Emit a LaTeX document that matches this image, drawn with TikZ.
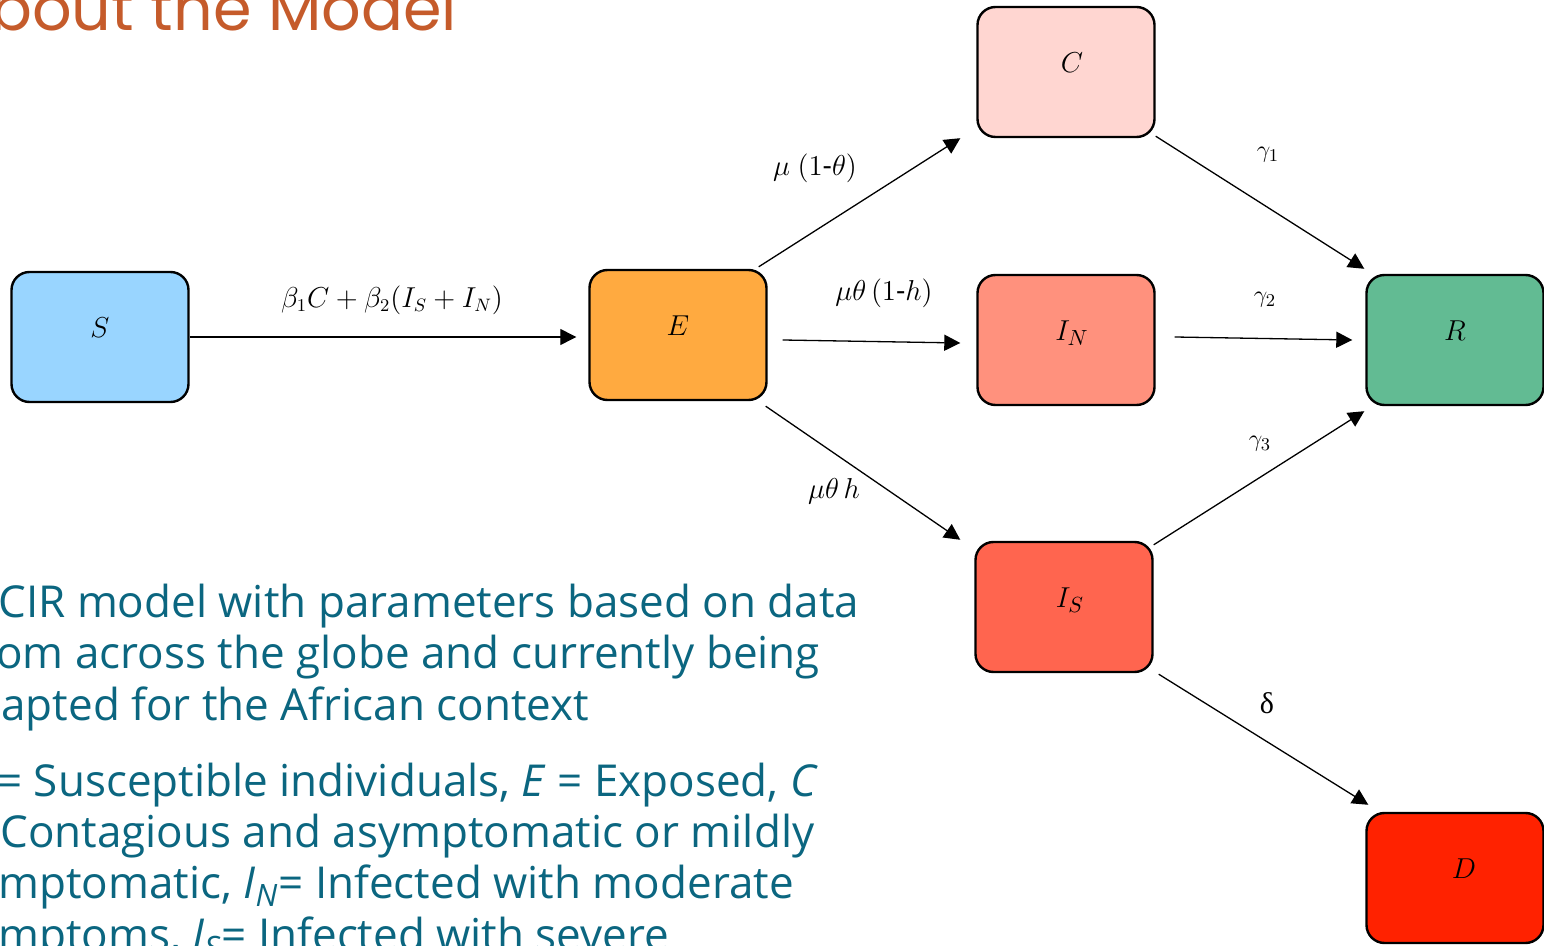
\documentclass[tikz,border=0pt]{standalone}
\usepackage{amsmath}
\usepackage{fontspec}
\setmainfont{Open Sans}
\newfontfamily\titlefont{Poppins}
\newfontfamily\greekfont{Liberation Serif}
\usetikzlibrary{arrows.meta}
\definecolor{titleorange}{HTML}{C55B2B}
\definecolor{bodyteal}{HTML}{0B6680}
\definecolor{colS}{HTML}{99D5FF}
\definecolor{colE}{HTML}{FFAA40}
\definecolor{colC}{HTML}{FFD6D1}
\definecolor{colIN}{HTML}{FF917D}
\definecolor{colIS}{HTML}{FF654F}
\definecolor{colR}{HTML}{62BB93}
\definecolor{colD}{HTML}{FF2200}
\tikzset{
  compartment/.style={
    draw=black,line width=1.2pt,rounded corners=9pt,
    minimum width=88.5pt,minimum height=65pt,inner sep=0pt,
    font=\fontsize{15}{17}\selectfont,text depth=9pt,
  },
  flow/.style={-{Triangle[length=8pt,width=8pt]},line width=0.65pt},
  rate/.style={inner sep=0pt,font=\fontsize{14.5}{17}\selectfont},
  smallrate/.style={inner sep=0pt,font=\fontsize{13}{15}\selectfont},
  slideline/.style={anchor=base west,inner sep=0pt,text=bodyteal,font=\fontsize{22}{26}\selectfont},
}

\begin{document}
\begin{tikzpicture}[x=0.5pt,y=-0.5pt]
        \clip (0,0) rectangle (1544,946);
        % slide title and text
        \node[anchor=base west,inner sep=0pt,text=titleorange,font=\titlefont\fontsize{31}{35}\selectfont] (title) at (-10,31) {bout the Model};
        \node[slideline] (line1) at (-2,618) {CIR model with parameters based on data};
        \node[slideline] (line2) at (-4,669) {om across the globe and currently being};
        \node[slideline] (line3) at (1,720) {apted for the African context};
        \node[slideline] (line4) at (-3,797) {= Susceptible individuals, \textit{E} = Exposed, \textit{C}};
        \node[slideline] (line5) at (0,848) {Contagious and asymptomatic or mildly};
        \node[slideline] (line6) at (-2,899) {mptomatic, \textit{I}\textsubscript{\textit{N}}= Infected with moderate};
        \node[slideline] (line7) at (-2,950) {mptoms, \textit{I}\textsubscript{\textit{S}}= Infected with severe};
        % compartments
        \node[compartment,fill=colS] (S) at (100,337) {$S$};
        \node[compartment,fill=colE] (E) at (678,335) {$E$};
        \node[compartment,fill=colC] (C) at (1066,72) {\hspace{6pt}$C$};
        \node[compartment,fill=colIN] (IN) at (1066,340) {\hspace{6pt}$I_N$};
        \node[compartment,fill=colIS] (IS) at (1064,607) {\hspace{6pt}$I_S$};
        \node[compartment,fill=colR] (R) at (1455,340) {$R$};
        \node[compartment,fill=colD] (D) at (1455,878) {\hspace{9pt}$D$};
        % rates
        \node[rate,font=\fontsize{13.5}{16}\selectfont] (tSE) at (392,300) {$\beta_1C+\beta_2(I_S+I_N)$};
        \node[rate] (tEC) at (815,168) {$\mu\ (1\text{-}\theta)$};
        \node[rate] (tEIN) at (884,293) {$\mu\theta\,(1\text{-}h)$};
        \node[rate] (tEIS) at (834,491) {$\mu\theta\,h$};
        \node[smallrate] (tCR) at (1268,155) {$\gamma_1$};
        \node[smallrate] (tINR) at (1265,300) {$\gamma_2$};
        \node[smallrate] (tISR) at (1260,444) {$\gamma_3$};
        \node[smallrate,font=\fontsize{15}{17}\selectfont] (tISD) at (1267,703) {\greekfont δ};
        % flows
        \draw[flow] (S.east) -- ([xshift=-6pt]S.east -| E.west);
        \draw[flow] ([shift={(-4.5pt,1pt)}]E.north east) -- ([xshift=-8pt]C.south west);
        \draw[flow] ([shift={(7.5pt,-2.5pt)}]E.east) -- ([shift={(-8pt,-1.5pt)}]IN.west);
        \draw[flow] ([shift={(-1pt,-2.5pt)}]E.south east) -- ([shift={(-7pt,0.5pt)}]IS.north west);
        \draw[flow] ([yshift=1pt]C.south east) -- ([shift={(-0.5pt,2.5pt)}]R.north west);
        \draw[flow] ([shift={(9.5pt,1.5pt)}]IN.east) -- ([xshift=-6.5pt]R.west);
        \draw[flow] ([yshift=-2pt]IS.north east) -- ([shift={(-0.5pt,-2.5pt)}]R.south west);
        \draw[flow] ([shift={(2.5pt,-0.5pt)}]IS.south east) -- ([shift={(1.5pt,3.5pt)}]D.north west);
\end{tikzpicture}
\end{document}
